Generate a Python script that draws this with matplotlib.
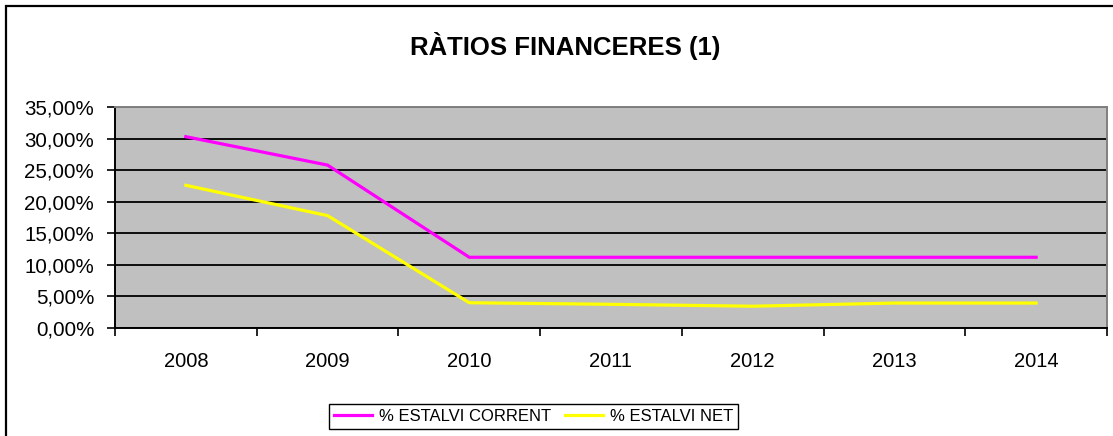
import matplotlib
matplotlib.use('Agg')
import matplotlib.pyplot as plt
from matplotlib.ticker import FuncFormatter, FixedLocator
from matplotlib.patches import Rectangle

plt.rcParams['font.family'] = ['Liberation Sans', 'DejaVu Sans']

# data
years = ['2008', '2009', '2010', '2011', '2012', '2013', '2014']
estalvi_corrent = [30.3, 25.8, 11.2, 11.2, 11.2, 11.2, 11.2]
estalvi_net = [22.6, 17.8, 4.0, 3.75, 3.45, 3.95, 3.95]
y_ticks = [0, 5, 10, 15, 20, 25, 30, 35]

W, H = 1113, 436
fig = plt.figure(figsize=(W / 100, H / 100), dpi=100)

# outer chart frame (cut off at right/bottom, like the reference)
fig.patches.append(Rectangle((6 / W, -0.1), 1.2, 1 - 6 / H + 0.1,
                             transform=fig.transFigure, fill=False,
                             edgecolor='black', linewidth=1.6))

ax = fig.add_axes([115 / W, 1 - 328 / H, (1107 - 115) / W, (328 - 107) / H])
ax.set_facecolor('#C0C0C0')

x = list(range(len(years)))
ax.plot(x, estalvi_corrent, color='#FF00FF', linewidth=2.3, label='% ESTALVI CORRENT')
ax.plot(x, estalvi_net, color='#FFFF00', linewidth=2.3, label='% ESTALVI NET')

ax.set_xlim(-0.5, len(years) - 0.5)
ax.set_ylim(0, 35)

# y axis
ax.set_yticks(y_ticks)
ax.yaxis.set_major_formatter(FuncFormatter(lambda v, p: f"{v:.2f}".replace('.', ',') + '%'))
ax.tick_params(axis='y', direction='out', length=6, width=1.2, pad=9,
               labelsize=14.8, colors='black')
ax.yaxis.grid(True, color='black', linewidth=1.3)
ax.set_axisbelow(True)

# x axis: labels centred in categories, tick marks on the boundaries
ax.set_xticks(x)
ax.set_xticklabels(years)
ax.tick_params(axis='x', which='major', length=0, pad=17, labelsize=14.5)
ax.xaxis.set_minor_locator(FixedLocator([i - 0.5 for i in range(len(years) + 1)]))
ax.tick_params(axis='x', which='minor', direction='out', length=6, width=1.2)

for side in ['left', 'bottom']:
    ax.spines[side].set_color('black')
    ax.spines[side].set_linewidth(1.4)
for side in ['top', 'right']:
    ax.spines[side].set_color('#808080')
    ax.spines[side].set_linewidth(1.4)

fig.text(565 / W, 1 - 46 / H, 'RÀTIOS FINANCERES (1)', ha='center', va='center',
         fontsize=18.5, fontweight='bold')

leg = fig.legend(loc='center', bbox_to_anchor=(533.5 / W, 1 - 416 / H), ncol=2,
                 fontsize=12.0, frameon=True, fancybox=False, framealpha=1,
                 edgecolor='black', handlelength=2.3, columnspacing=0.8,
                 handletextpad=0.4, borderpad=0.3, borderaxespad=0)
leg.get_frame().set_linewidth(1.0)

fig.savefig('out.png', dpi=100)
